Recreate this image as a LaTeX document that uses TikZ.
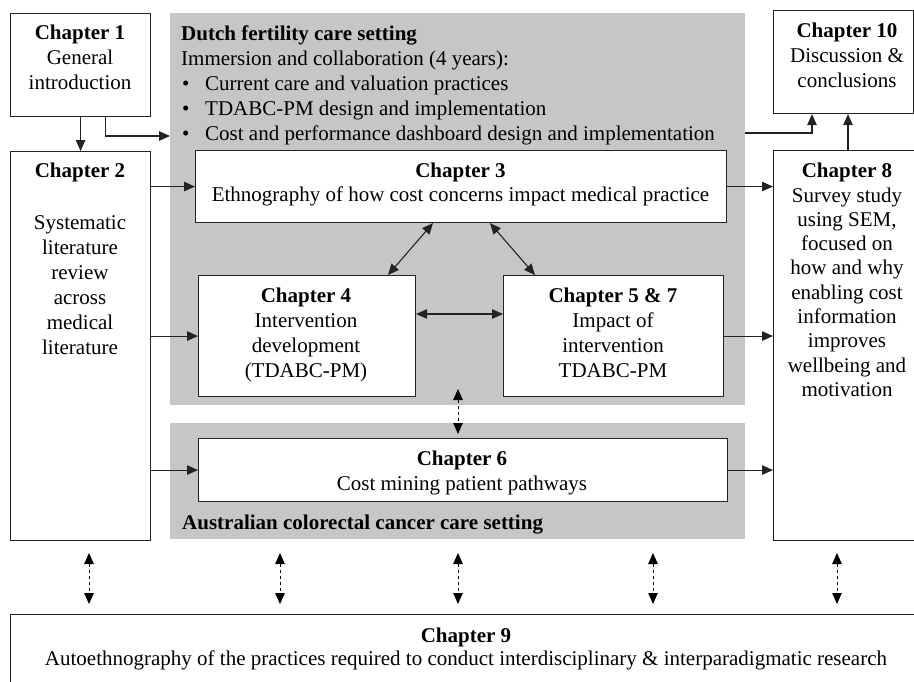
\documentclass[tikz,border=0pt]{standalone}
\usepackage{fontspec}
\setmainfont{Liberation Serif}
\usetikzlibrary{arrows.meta,calc}
\definecolor{settinggray}{RGB}{199,198,196}
\definecolor{linegray}{RGB}{35,35,35}
\begin{document}
\begin{tikzpicture}[x=1pt,y=-1pt,
  font=\fontsize{21}{25}\selectfont,
  box/.style={draw=linegray,line width=1.1pt,fill=white,inner sep=0pt,anchor=north west},
  setting/.style={fill=settinggray,inner sep=0pt,anchor=north west},
  txt/.style={align=center,inner sep=0pt,anchor=north},
  tip/.tip={Triangle[length=11pt,width=9.5pt]},
  arr/.style={draw=linegray,line width=1.1pt,-tip},
  biarr/.style={draw=linegray,line width=1.1pt,tip-tip},
  dotarr/.style={draw=black,line width=1pt,dash pattern=on 3pt off 3pt,tip-tip}]
\useasboundingbox (0,0) rectangle (914,681);
\clip (0,0) rectangle (914,681);

% research settings (grey backgrounds)
\node[setting,minimum width=575pt,minimum height=392pt] (dutch) at (170,13) {};
\node[setting,minimum width=575pt,minimum height=116pt] (aus) at (170,423) {};

% chapter boxes
\node[box,minimum width=140pt,minimum height=103pt] (c1) at (10,13) {};
\node[box,minimum width=140pt,minimum height=389pt] (c2) at (10,151) {};
\node[box,minimum width=531pt,minimum height=72pt] (c3) at (195,150) {};
\node[box,minimum width=217pt,minimum height=121pt] (c4) at (198,275) {};
\node[box,minimum width=220pt,minimum height=121pt] (c57) at (503,275) {};
\node[box,minimum width=529pt,minimum height=63pt] (c6) at (198,438) {};
\node[box,minimum width=150pt,minimum height=390pt] (c8) at (773,150) {};
\node[box,minimum width=140pt,minimum height=103pt] (c10) at (773,10) {};
\node[box,minimum width=920pt,minimum height=120pt] (c9) at (10,614) {};

% box texts
\node[txt] (c1t) at (80,25) {\textbf{Chapter 1}\\General\\introduction};
\node[txt] (c2t) at (80,163) {\textbf{Chapter 2}\\[27pt]Systematic\\literature\\review\\across\\medical\\literature};
\node[txt,font=\fontsize{21}{23.5}\selectfont] (c3t) at (460.5,163) {\textbf{Chapter 3}\\Ethnography of how cost concerns impact medical practice};
\node[txt] (c4t) at (306,288) {\textbf{Chapter 4}\\Intervention\\development\\(TDABC-PM)};
\node[txt] (c57t) at (613,288) {\textbf{Chapter 5 \& 7}\\Impact of\\intervention\\TDABC-PM};
\node[txt] (c6t) at (462,451) {\textbf{Chapter 6}\\Cost mining patient pathways};
\node[txt,font=\fontsize{21}{24.3}\selectfont] (c8t) at (847,163) {\textbf{Chapter 8}\\Survey study\\using SEM,\\focused on\\how and why\\enabling cost\\information\\improves\\wellbeing and\\motivation};
\node[txt] (c10t) at (847,23) {\textbf{Chapter 10}\\Discussion \&\\conclusions};
\node[txt,font=\fontsize{21}{23}\selectfont] (c9t) at (466,628) {\textbf{Chapter 9}\\Autoethnography of the practices required to conduct interdisciplinary \& interparadigmatic research};

% setting captions
\node[align=left,inner sep=0pt,anchor=north west] (dutcht) at (181,26)
  {\textbf{Dutch fertility care setting}\\
   Immersion and collaboration (4 years):\\
   \makebox[24pt][l]{\hspace{1pt}•}Current care and valuation practices\\
   \makebox[24pt][l]{\hspace{1pt}•}TDABC-PM design and implementation\\
   \makebox[24pt][l]{\hspace{1pt}•}Cost and performance dashboard design and implementation};
\node[inner sep=0pt,anchor=north west] (aust) at (182,515) {\textbf{Australian colorectal cancer care setting}};

% helper points for free connector ends
\coordinate (gap) at (458,389);

% solid connectors
\draw[arr] (c1.south) -- (c1.south |- c2.north);
\draw[arr] ([xshift=25pt]c1.south) |- ($(dutch.north west)+(0,123)$);
\draw[arr] (c2.east |- c3.west) -- (c3.west);
\draw[arr] (c2.east |- c4.west) -- (c4.west);
\draw[arr] (c2.east |- c6.west) -- (c6.west);
\draw[arr] (c3.east) -- (c3.east -| c8.west);
\draw[arr] (c57.east) -- (c57.east -| c8.west);
\draw[arr] (c6.east) -- (c6.east -| c8.west);
\draw[arr] ($(dutch.north east)+(0,120)$) -| ($(c10.south west)+(39,0)$);
\draw[arr] ($(c8.north west)+(75,0)$) -- ($(c10.south west)+(75,0)$);
\draw[biarr] ($(c3.south west)+(238,0)$) -- ($(c4.north west)+(190,0)$);
\draw[biarr] ($(c3.south west)+(295,0)$) -- ($(c57.north west)+(32,0)$);
\draw[biarr] ($(c4.north east)+(0,39)$) -- ($(c57.north west)+(0,39)$);

% dotted links
\draw[dotarr] (gap) -- ($(gap |- c6.north)+(0,-4)$);
\foreach \dx in {79,270,448,643,827}
  \draw[dotarr] ($(c9.north west)+(\dx,-61)$) -- ($(c9.north west)+(\dx,-10)$);
\end{tikzpicture}
\end{document}
